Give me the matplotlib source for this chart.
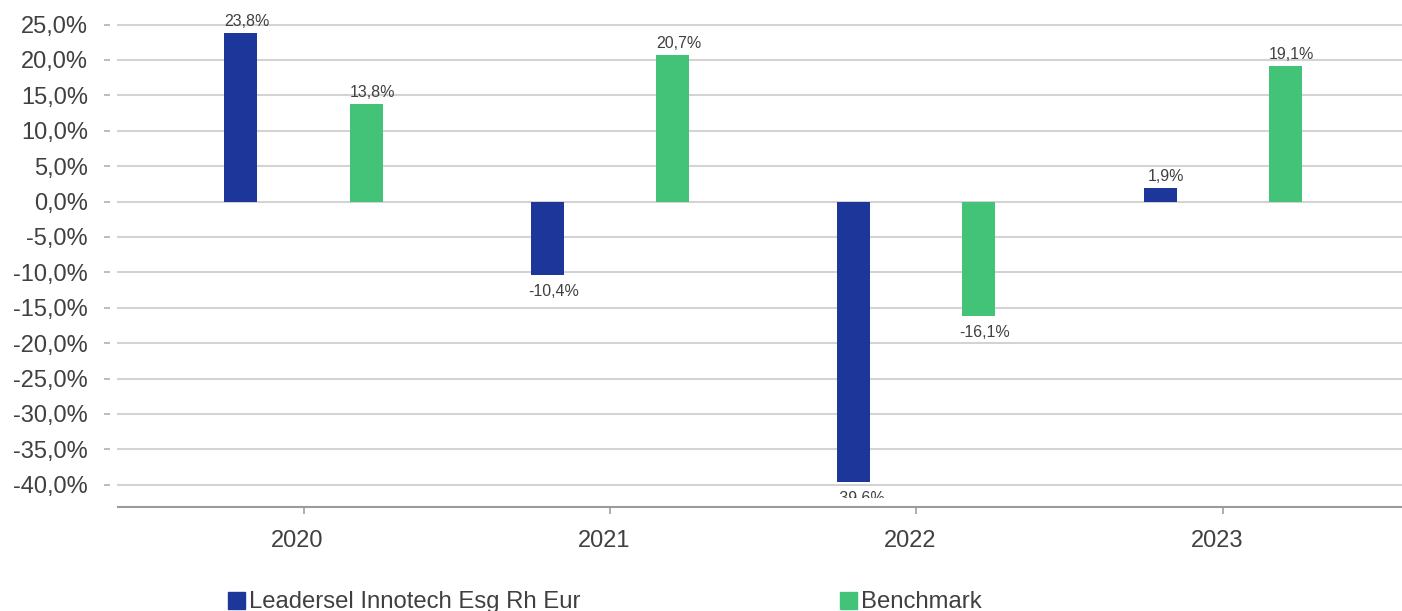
import matplotlib
matplotlib.use("Agg")
import matplotlib.pyplot as plt
import matplotlib.transforms as mtransforms
from matplotlib.patches import Rectangle
import numpy as np

years = ["2020", "2021", "2022", "2023"]
fund_name = "Leadersel Innotech Esg Rh Eur"
bench_name = "Benchmark"
fund = [23.8, -10.4, -39.6, 1.9]
bench = [13.8, 20.7, -16.1, 19.1]
yticks = [25, 20, 15, 10, 5, 0, -5, -10, -15, -20, -25, -30, -35, -40]

BLUE = "#1C3799"
GREEN = "#42C377"
TXT = "#404040"
GRID = "#D3D3D3"

plt.rcParams['font.family'] = ['Liberation Sans', 'DejaVu Sans']

W, H = 1402, 611
fig = plt.figure(figsize=(W / 100, H / 100), dpi=100)

ax_left_px, ax_right_px = 110, 1402
ax_top_px, ax_bot_px = 3.3, 507.4
ax = fig.add_axes([ax_left_px / W, (H - ax_bot_px) / H,
                   (ax_right_px - ax_left_px) / W, (ax_bot_px - ax_top_px) / H])

x = np.arange(len(years))
bw = 0.1077
off = 0.204
ax.bar(x - off, fund, width=bw, color=BLUE, zorder=3)
ax.bar(x + off, bench, width=bw, color=GREEN, zorder=3)

ax.set_xlim(-0.6315, 3.585)
ax.set_ylim(-43.2, 28)

# gridlines starting a little right of the tick marks
gx0 = 8 / (ax_right_px - ax_left_px)
for yv in yticks:
    ax.axhline(yv, xmin=gx0, xmax=1, color=GRID, lw=1.5, zorder=1)
ax.axhline(-43.2, xmin=gx0, xmax=1, color="#9A9A9A", lw=1.5, zorder=4, clip_on=False)

for s in ax.spines.values():
    s.set_visible(False)

ax.set_yticks(yticks)
ax.set_yticklabels([f"{v:.1f}".replace(".", ",") + "%" for v in yticks])
ax.tick_params(axis='y', length=4, width=1.2, color="#B0B0B0", pad=12,
               labelsize=17, labelcolor=TXT)
ax.set_xticks(x)
ax.set_xticklabels(years)
ax.tick_params(axis='x', length=5, width=1.2, color="#A0A0A0", pad=11,
               labelsize=17, labelcolor=TXT)
shift = mtransforms.ScaledTranslation(-6 / 100, 0, fig.dpi_scale_trans)
for lbl in ax.get_xticklabels():
    lbl.set_transform(lbl.get_transform() + shift)

clip_rect = Rectangle((-1, -41.9), 10, 100, transform=ax.transData)

def label(xp, v):
    s = f"{v:.1f}".replace(".", ",") + "%"
    if v >= 0:
        t = ax.annotate(s, (xp, v), xytext=(6, 7), textcoords="offset pixels",
                        ha="center", va="baseline", fontsize=11.5, color=TXT, zorder=5)
    else:
        t = ax.annotate(s, (xp, v), xytext=(6, -9), textcoords="offset pixels",
                        ha="center", va="top", fontsize=11.5, color=TXT, zorder=5)
    t.set_clip_path(clip_rect)
    t.set_clip_on(True)

for i in range(len(years)):
    label(x[i] - off, fund[i])
    label(x[i] + off, bench[i])

# legend (bottom, partially cut by the image edge)
sq = 17
for (px, col, name) in [(228, BLUE, fund_name), (840, GREEN, bench_name)]:
    fig.patches.append(Rectangle((px / W, (H - 608.5) / H), sq / W, 16.5 / H,
                                 transform=fig.transFigure, color=col, figure=fig))
    fig.text((px + 21) / W, (H - 608.3) / H, name, fontsize=17.2, color=TXT,
             ha="left", va="baseline")

fig.savefig("out.png", dpi=100)
